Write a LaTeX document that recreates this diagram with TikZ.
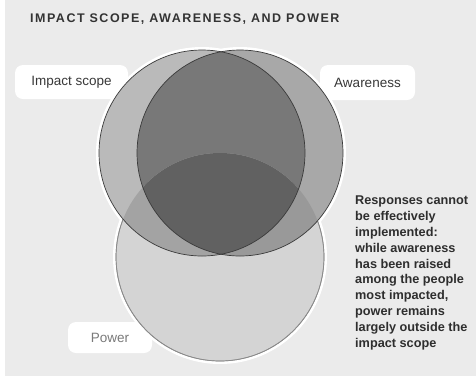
\documentclass[tikz,border=0pt]{standalone}
\usepackage{fontspec}
\setmainfont{Liberation Sans}

\begin{document}
\begin{tikzpicture}[x=1pt,y=-1pt]
    % Define points
    \coordinate (I) at (202,153); % impact scope
    \coordinate (A) at (240,153); % awareness
    \coordinate (P) at (220,257); % power

    % Styling
    \tikzset{
        c_halo/.style={fill=white},
        c_impact/.style={fill=black!27},
        c_aware/.style={fill=black!34},
        c_both/.style={fill=black!53},
        c_power/.style={fill=black!17, draw=black!46, line width=0.7pt},
        c_pimpact/.style={fill=black!36},
        c_paware/.style={fill=black!40},
        c_all/.style={fill=black!62},
        c_edge/.style={draw=black!77, line width=0.7pt},
        c_tag/.style={fill=white, rounded corners=8pt, inner sep=0pt,
            font=\fontsize{13.5}{16}\selectfont, text=black!78},
        c_title/.style={anchor=west, inner sep=0pt, text=black!80,
            font=\fontsize{12.5}{15}\selectfont\bfseries\addfontfeatures{LetterSpace=12}},
        c_note/.style={anchor=north west, inner sep=0pt, align=left, text=black!82,
            font=\fontsize{12.7}{15.8}\selectfont\bfseries}
    }

    % Background
    \useasboundingbox (0,0) rectangle (476,376);
    \fill[white] (0,0) rectangle (476,376);
    \fill[black!8] (5,0) rectangle (476,376);

    % Label boxes (behind the circles)
    \node[c_tag, minimum width=113pt, minimum height=34pt] (impact) at (71.5,82) {Impact scope};
    \node[c_tag, minimum width=95pt, minimum height=35pt] (aware) at (367.5,82.5) {Awareness};
    \node[c_tag, minimum width=84pt, minimum height=31pt, text=black!52] (power) at (110,337.5) {Power};

    % White halo
    \fill[c_halo] (I) circle (106pt) (A) circle (106pt) (P) circle (107pt);

    % Circles
    \fill[c_power] (P) circle (104pt);
    \draw[c_power, fill=none] (P) circle (104pt);
    \fill[c_impact] (I) circle (103pt);
    \fill[c_aware] (A) circle (103pt);
    \begin{scope}
        \clip (I) circle (103pt);
        \fill[c_both] (A) circle (103pt);
    \end{scope}

    % Parts inside power
    \begin{scope}
        \clip (P) circle (104pt);
        \fill[c_pimpact] (I) circle (103pt);
        \fill[c_paware] (A) circle (103pt);
        \clip (I) circle (103pt);
        \fill[c_all] (A) circle (103pt);
    \end{scope}

    % Outlines
    \draw[c_edge] (I) circle (103pt);
    \draw[c_edge] (A) circle (103pt);

    % Texts
    \node[c_title] (title) at (30,19) {IMPACT SCOPE, AWARENESS, AND POWER};
    \node[c_note] (note) at (355,196) {Responses cannot\\be effectively\\implemented:\\while awareness\\has been raised\\among the people\\most impacted,\\power remains\\largely outside the\\impact scope};
\end{tikzpicture}
\end{document}
